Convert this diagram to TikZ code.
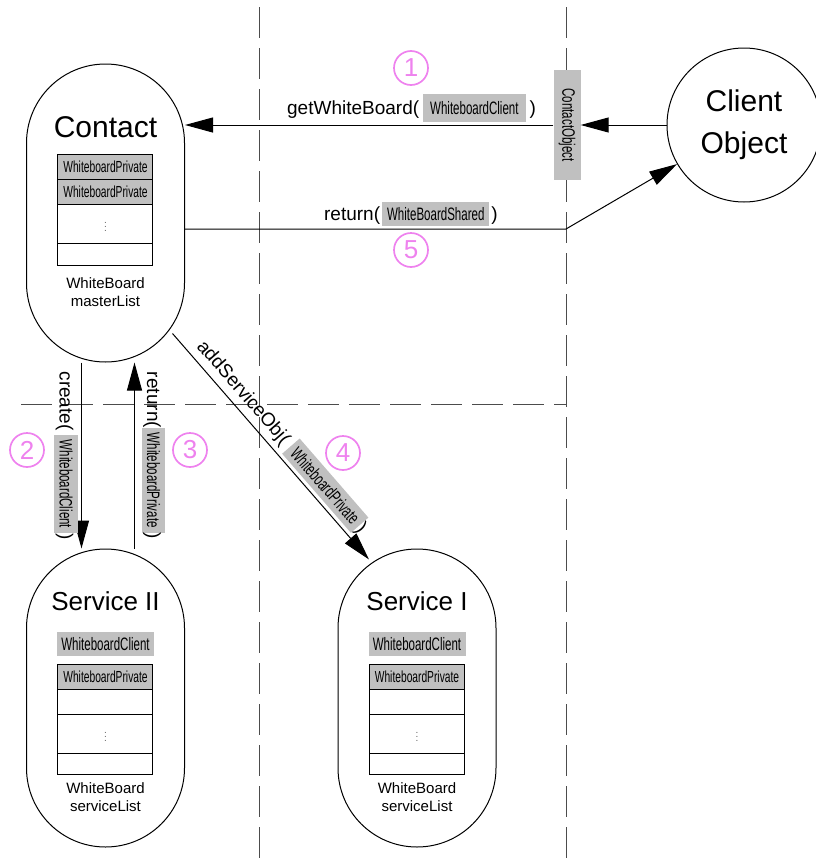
\documentclass[tikz,border=0pt]{standalone}
\usepackage{fontspec}
\setmainfont{Liberation Sans}
\usepackage{graphicx}
\usetikzlibrary{arrows.meta, positioning, calc}
\definecolor{boxgray}{RGB}{192,192,192}
\definecolor{numpink}{RGB}{238,130,238}
\newcommand{\nar}[1]{\scalebox{0.64}[1]{#1}}
\newcommand{\gbox}[2]{{\setlength{\fboxsep}{#1}\colorbox{boxgray}{\fontsize{18}{18}\selectfont\nar{#2}}}}

\begin{document}
\begin{tikzpicture}[x=1pt, y=-1pt,
    lane/.style={draw=black!70, line width=1pt, dash pattern=on 31pt off 10pt},
    obj/.style={draw, line width=1pt, rounded corners=79pt, minimum width=158pt, minimum height=298pt, inner sep=0pt},
    msg/.style={line width=1pt, -{Triangle[length=28pt, width=15pt]}},
    num/.style={circle, draw=numpink, line width=1.7pt, text=numpink, minimum size=34pt, inner sep=0pt, font=\fontsize{26}{26}\selectfont},
    cell/.style={draw, line width=1pt},
    celltext/.style={font=\fontsize{16}{16}\selectfont},
    dots/.style={font=\fontsize{10}{10}\selectfont, text=black!60},
    caption/.style={align=center, font=\fontsize{15}{18}\selectfont},
    lbl/.style={font=\fontsize{19}{23}\selectfont}]
    \useasboundingbox (0,0) rectangle (815,865);

    % Lanes
    \draw[lane] (259,7) -- (259,865);
    \draw[lane] (566,7) -- (566,865);
    \draw[lane] (21,404) -- (566,404);

    % Objects
    \node[obj] (contact) at (105.5,213) {};
    \node[obj] (serv2) at (105.5,698) {};
    \node[obj] (serv1) at (417,698) {};
    \node[circle, draw, line width=1pt, minimum size=154pt, align=center, font=\fontsize{30}{42}\selectfont] (client) at (744,125) {Client\\Object};
    \node[fill=boxgray, minimum width=27pt, minimum height=110pt, inner sep=0pt] (cobj) at (567,125) {};
    \node[rotate=-90, font=\fontsize{18}{18}\selectfont] at (cobj) {\nar{ContactObject}};

    % Contact contents
    \begin{scope}[shift={(contact.center)}]
      \node[font=\fontsize{30}{30}\selectfont] at (0,-86) {Contact};
      \draw[cell, fill=boxgray] (-48,-59) rectangle (47,-34);
      \draw[cell, fill=boxgray] (-48,-34) rectangle (47,-9);
      \draw[cell] (-48,-9) rectangle (47,30);
      \draw[cell] (-48,30) rectangle (47,52);
      \node[celltext] at (0,-46.5) {\nar{WhiteboardPrivate}};
      \node[celltext] at (0,-21.5) {\nar{WhiteboardPrivate}};
      \node[dots] at (0,10.5) {$\vdots$};
      \node[caption] at (0,79) {WhiteBoard\\masterList};
    \end{scope}

    % Service contents
    \foreach \s/\t in {serv2/Service II, serv1/Service I} {
      \begin{scope}[shift={(\s.center)}]
        \node[font=\fontsize{26}{26}\selectfont] at (0,-97) {\t};
        \node[fill=boxgray, minimum width=97pt, minimum height=24pt, inner sep=0pt, font=\fontsize{18}{18}\selectfont] at (0,-54) {\nar{WhiteboardClient}};
        \draw[cell, fill=boxgray] (-48,-34) rectangle (47,-9);
        \draw[cell] (-48,-9) rectangle (47,16);
        \draw[cell] (-48,16) rectangle (47,55);
        \draw[cell] (-48,55) rectangle (47,76);
        \node[celltext] at (0,-21.5) {\nar{WhiteboardPrivate}};
        \node[dots] at (0,35.5) {$\vdots$};
        \node[caption] at (0,99) {WhiteBoard\\serviceList};
      \end{scope}
    }

    % Messages
    \draw[msg] (client) -- (cobj.east);
    \draw[msg] (cobj.west) -- (cobj.west -| contact.east)
      node[lbl, pos=0.385, above=2pt, inner sep=1pt] {getWhiteBoard(\hspace{4pt}\gbox{7pt}{WhiteboardClient}\hspace{4pt})};
    \coordinate (bend) at (566,229);
    \draw[msg] (contact.east |- bend) -- (bend)
      node[lbl, pos=0.593, above=2pt, inner sep=1pt] {return(\hspace{2pt}\gbox{5pt}{WhiteBoardShared}\hspace{2pt})} -- (client);
    \draw[msg] ([xshift=-24pt]contact.south) -- ([xshift=-24pt]serv2.north)
      node[lbl, midway, rotate=-90, anchor=north] {create(\hspace{4pt}\gbox{5pt}{WhiteboardClient})};
    \draw[msg] ([xshift=29pt]serv2.north) -- ([xshift=29pt]contact.south)
      node[lbl, midway, rotate=-90, anchor=south, inner sep=7pt] {return(\gbox{5pt}{WhiteboardPrivate})};
    \draw[msg] ($(contact.south)+(67,-29)$) -- ($(serv1.north)+(-48,11)$)
      node[lbl, midway, sloped, above] {addServiceObj(\hspace{6pt}\gbox{5pt}{WhiteboardPrivate})};

    % Steps
    \node[num] (n1) at (411,68) {1};
    \node[num] (n2) at (27,450) {2};
    \node[num] (n3) at (190,450) {3};
    \node[num] (n4) at (343,453) {4};
    \node[num] (n5) at (411,250) {5};
\end{tikzpicture}
\end{document}
